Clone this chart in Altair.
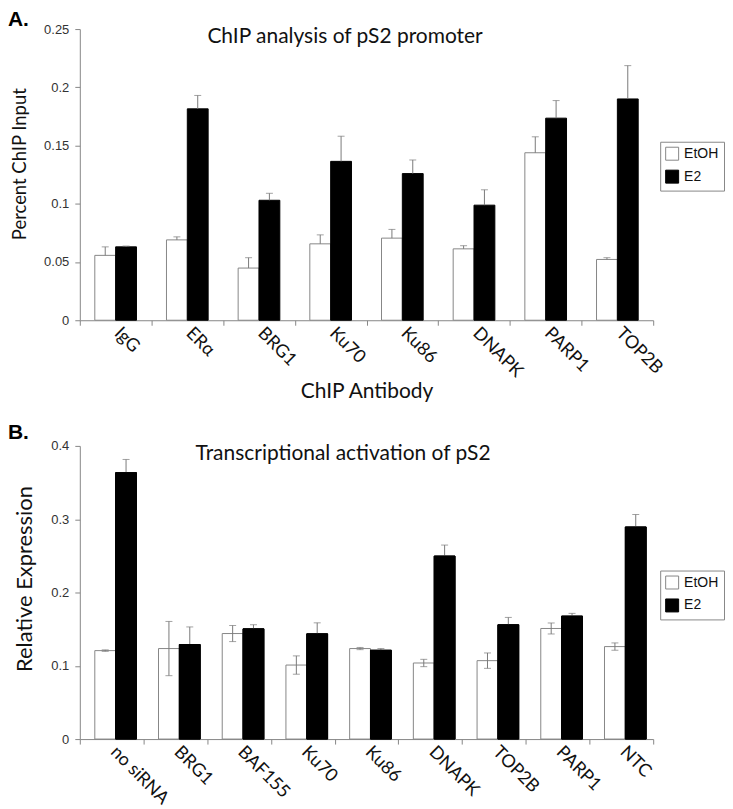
import altair as alt
import pandas as pd

treatments = ["EtOH", "E2"]

a_cats = ["IgG", "ERα", "BRG1", "Ku70", "Ku86", "DNAPK", "PARP1", "TOP2B"]
a_etoh = [0.0557, 0.0690, 0.0448, 0.0656, 0.0705, 0.0613, 0.1438, 0.0522]
a_etoh_err = [0.0073, 0.0026, 0.0089, 0.0077, 0.0075, 0.0027, 0.0137, 0.0015]
a_e2 = [0.0630, 0.1815, 0.1030, 0.1364, 0.1259, 0.0988, 0.1735, 0.1900]
a_e2_err = [0.0007, 0.0115, 0.0060, 0.0216, 0.0117, 0.0132, 0.0151, 0.0286]

b_cats = ["no siRNA", "BRG1", "BAF155", "Ku70", "Ku86", "DNAPK", "TOP2B", "PARP1", "NTC"]
b_etoh = [0.1207, 0.1235, 0.1440, 0.1010, 0.1235, 0.1038, 0.1070, 0.1509, 0.1262]
b_etoh_err = [0.0010, 0.0370, 0.0110, 0.0125, 0.0015, 0.0050, 0.0105, 0.0075, 0.0050]
b_e2 = [0.3635, 0.1290, 0.1504, 0.1436, 0.1212, 0.2497, 0.1560, 0.1678, 0.2894]
b_e2_err = [0.0180, 0.0240, 0.0056, 0.0150, 0.0023, 0.0150, 0.0100, 0.0037, 0.0170]

a_ticks = [0, 0.05, 0.1, 0.15, 0.2, 0.25]
b_ticks = [0, 0.1, 0.2, 0.3, 0.4]

GRAY = "#878787"
CAL = "Lato"


def make_df(cats, etoh, etoh_err, e2, e2_err, up_only):
    rows = []
    for t, vals, errs in (("EtOH", etoh, etoh_err), ("E2", e2, e2_err)):
        for c, v, e in zip(cats, vals, errs):
            rows.append({"cat": c, "treatment": t, "value": v,
                         "lo": v if up_only else v - e, "hi": v + e})
    return pd.DataFrame(rows)


def panel(df, cats, ticks, fmt, ytitle, xtitle, title, letter, height, legend_y,
          up_only, ytitle_size, ytitle_y, letter_y, title_x):
    x = alt.X("cat:N", sort=cats, title=xtitle,
              scale=alt.Scale(paddingInner=0, paddingOuter=0),
              axis=alt.Axis(labelAngle=45, labelAlign="left", labelBaseline="middle",
                            tickBand="extent", labelFontSize=18, labelFont=CAL,
                            labelColor="#111", labelPadding=5, labelOffset=1, tickSize=5,
                            titleFontSize=21, titleFont=CAL, titleFontWeight="normal",
                            titleColor="#111", titlePadding=0,
                            domainColor=GRAY, tickColor=GRAY))
    xo = alt.XOffset("treatment:N", sort=treatments,
                     scale=alt.Scale(domain=treatments, paddingOuter=0.72, paddingInner=0))

    def ych(field):
        return alt.Y(field, title=ytitle,
                     scale=alt.Scale(domain=[ticks[0], ticks[-1]], nice=False),
                     axis=alt.Axis(values=ticks, format=fmt, grid=False,
                                   labelFontSize=13, labelFont="Liberation Sans",
                                   labelColor="#333", labelPadding=6, tickSize=5,
                                   titleFontSize=ytitle_size, titleFont=CAL,
                                   titleFontWeight="normal", titleY=ytitle_y,
                                   titleColor="#111", titlePadding=14,
                                   domainColor=GRAY, tickColor=GRAY))

    fill = alt.Fill("treatment:N", sort=treatments,
                    scale=alt.Scale(domain=treatments, range=["white", "black"]),
                    legend=alt.Legend(title=None, orient="none", legendX=582, legendY=legend_y,
                                      strokeColor="#888", padding=5, symbolType="square",
                                      symbolSize=169, symbolStrokeColor="#888",
                                      symbolStrokeWidth=1, labelFontSize=14,
                                      labelFont="Liberation Sans", labelColor="#111",
                                      rowPadding=5, labelOffset=5))
    stroke = alt.Stroke("treatment:N", sort=treatments,
                        scale=alt.Scale(domain=treatments, range=[GRAY, "black"]),
                        legend=None)

    base = alt.Chart(df)
    bars = base.mark_bar(strokeWidth=1).encode(x=x, xOffset=xo, y=ych("value:Q"),
                                               fill=fill, stroke=stroke)
    rules = base.mark_rule(color="#7a7a7a", strokeWidth=1).encode(
        x=x, xOffset=xo, y=ych("lo:Q"), y2="hi:Q")
    caps_hi = base.mark_tick(color="#7a7a7a", thickness=1, size=7).encode(
        x=x, xOffset=xo, y=ych("hi:Q"))
    layers = [bars, rules, caps_hi]
    if not up_only:
        caps_lo = base.mark_tick(color="#7a7a7a", thickness=1, size=7).encode(
            x=x, xOffset=xo, y=ych("lo:Q"))
        layers.append(caps_lo)
        top = base.transform_filter(alt.datum.treatment == "E2").mark_bar(strokeWidth=1).encode(
            x=x, xOffset=xo, y=ych("value:Q"), fill=fill, stroke=stroke)
        layers.append(top)

    ttl = alt.Chart(pd.DataFrame({"t": [title]})).mark_text(
        font=CAL, fontSize=21, color="#111", align="center", baseline="alphabetic").encode(
        text="t:N", x=alt.value(title_x), y=alt.value(14))
    let = alt.Chart(pd.DataFrame({"t": [letter]})).mark_text(
        font="Liberation Sans", fontSize=21, fontWeight="bold", color="#000",
        align="left", baseline="top").encode(
        text="t:N", x=alt.value(-72), y=alt.value(letter_y))
    layers += [ttl, let]
    return alt.layer(*layers).properties(width=575, height=height)


df_a = make_df(a_cats, a_etoh, a_etoh_err, a_e2, a_e2_err, True)
df_b = make_df(b_cats, b_etoh, b_etoh_err, b_e2, b_e2_err, False)

chart_a = panel(df_a, a_cats, a_ticks, ".2~f", "Percent ChIP Input", "ChIP Antibody",
                "ChIP analysis of pS2 promoter", "A.", 292, 113, True, 18.5, 135, -20, 266)
chart_b = panel(df_b, b_cats, b_ticks, ".1~f", "Relative Expression", None,
                "Transcriptional activation of pS2", "B.", 294, 125, False, 22, 133, -24, 264)

chart = alt.vconcat(chart_a, chart_b, spacing=20).properties(
    padding={"left": 0, "top": 0, "right": 0, "bottom": 0}
).configure_view(stroke=None).resolve_scale(fill="independent", stroke="independent")

chart.save("out.html", embed_options={"renderer": "svg", "actions": False})
